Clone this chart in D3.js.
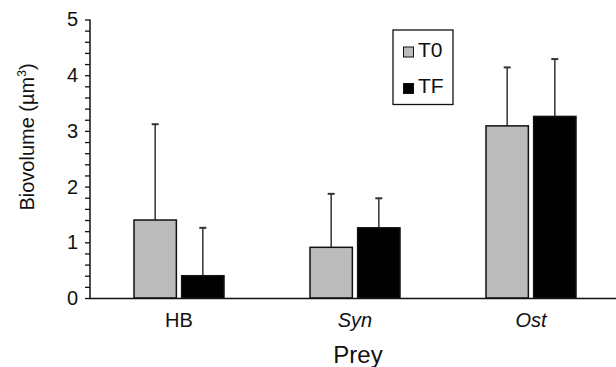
<!DOCTYPE html>
<html><head><meta charset="utf-8">
<script src="https://cdn.jsdelivr.net/npm/d3@7/dist/d3.min.js"></script>
<style>body{margin:0;background:#fff}svg{display:block}text{font-family:"Liberation Sans",Arial,Helvetica,sans-serif}</style>
</head><body><svg id="c" width="616" height="367"></svg>
<script>
const categories = ["HB", "Syn", "Ost"];
const italicCats = [false, true, true];
const seriesNames = ["T0", "TF"];
const t0Values = [1.40, 0.91, 3.09];
const tfValues = [0.40, 1.26, 3.26];
const t0Errors = [1.72, 0.96, 1.05];
const tfErrors = [0.86, 0.53, 1.03];
const yTicks = [0, 1, 2, 3, 4, 5];
const colors = ["#bcbcbc", "#000000"];

const svg = d3.select("#c");
const x = d3.scaleBand().domain(categories).range([91, 619]);
const xs = d3.scaleBand().domain(seriesNames).range([0, 90]).paddingInner(0.111);
const y = d3.scaleLinear().domain([0, 5]).range([298, 19.5]);

const series = [t0Values, tfValues];
const errs = [t0Errors, tfErrors];
const data = [];
categories.forEach((c, i) => seriesNames.forEach((s, j) => data.push({c, s, v: series[j][i], e: errs[j][i], j})));

const g = svg.append("g");
data.forEach(d => {
  const x0 = x(d.c) + (x.bandwidth() - 90) / 2 + xs(d.s);
  const cx = x0 + xs.bandwidth() / 2;
  g.append("line").attr("x1", cx).attr("x2", cx).attr("y1", y(d.v)).attr("y2", y(d.v + d.e))
    .attr("stroke", "#333").attr("stroke-width", 1.5);
  g.append("line").attr("x1", cx - 3.5).attr("x2", cx + 3.5).attr("y1", y(d.v + d.e)).attr("y2", y(d.v + d.e))
    .attr("stroke", "#333").attr("stroke-width", 2);
  g.append("rect").attr("x", x0).attr("y", y(d.v)).attr("width", xs.bandwidth()).attr("height", y(0) - y(d.v))
    .attr("fill", colors[d.j]).attr("stroke", "#111").attr("stroke-width", 1.5);
});

// y axis
const yAxis = d3.axisLeft(y).tickValues(yTicks).tickSize(5).tickPadding(7).tickFormat(d3.format("d"));
const ya = svg.append("g").attr("transform", "translate(90,0)").call(yAxis);
ya.select(".domain").attr("stroke", "#111").attr("stroke-width", 1.5).attr("d", "M0,298V19.5");
ya.selectAll(".tick line").attr("stroke", "#111").attr("stroke-width", 1.3);
ya.selectAll(".tick text").attr("font-size", 20).attr("fill", "#111");
const minor = d3.range(0, 5.001, 0.2).filter(v => Math.abs(v - Math.round(v)) > 0.01);
const ym = svg.append("g").attr("transform", "translate(90,0)").call(d3.axisLeft(y).tickValues(minor).tickSize(5).tickFormat(""));
ym.select(".domain").remove();
ym.selectAll(".tick line").attr("stroke", "#111").attr("stroke-width", 1.3);

// x axis
const xAxis = d3.axisBottom(x).tickSize(0).tickPadding(14);
const xa = svg.append("g").attr("transform", "translate(0,298.5)").call(xAxis);
xa.select(".domain").attr("stroke", "#111").attr("stroke-width", 1.5).attr("d", "M89,0H616");
xa.selectAll(".tick text").attr("font-size", 20).attr("fill", "#111")
  .attr("font-style", (d, i) => italicCats[i] ? "italic" : "normal");

// axis titles
svg.append("text").attr("x", 358).attr("y", 363).attr("text-anchor", "middle").attr("font-size", 24).attr("fill", "#111").text("Prey");
const yt = svg.append("text").attr("transform", "translate(34,137) rotate(-90)").attr("text-anchor", "middle").attr("font-size", 20).attr("fill", "#111");
yt.append("tspan").text("Biovolume (µm");
yt.append("tspan").attr("font-size", 12).attr("dy", -8).text("3");
yt.append("tspan").attr("dy", 8).text(")");

// legend
const lg = svg.append("g");
lg.append("rect").attr("x", 393).attr("y", 30).attr("width", 60).attr("height", 74.5).attr("fill", "#fff").attr("stroke", "#111").attr("stroke-width", 1.3);
seriesNames.forEach((s, i) => {
  const base = 56.5 + i * 36.5;
  lg.append("rect").attr("x", 403.5).attr("y", base - 9.5).attr("width", 10).attr("height", 10).attr("fill", colors[i]).attr("stroke", "#111").attr("stroke-width", 1);
  lg.append("text").attr("x", 418).attr("y", base).attr("font-size", 21).attr("fill", "#111").text(s);
});
</script></body></html>
